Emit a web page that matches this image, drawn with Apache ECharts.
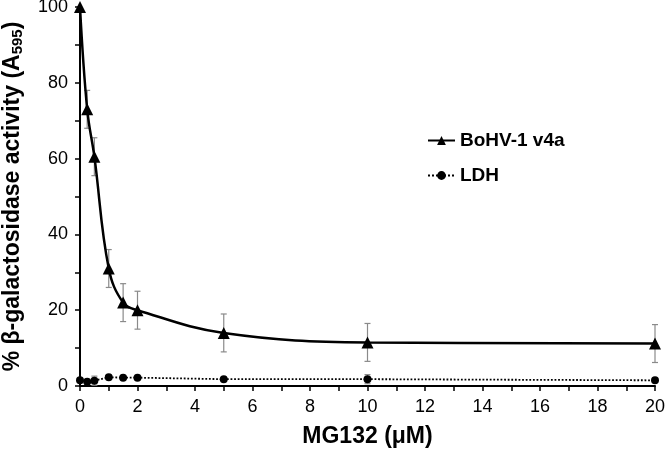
<!DOCTYPE html>
<html>
<head>
<meta charset="utf-8">
<script src="https://cdn.jsdelivr.net/npm/echarts@6/dist/echarts.min.js"></script>
<style>html,body{margin:0;padding:0;background:#fff}#c{width:666px;height:453px}</style>
</head>
<body>
<div id="c"></div>
<script>
const xValues = [0, 0.25, 0.5, 1, 1.5, 2, 5, 10, 20];
const bohv = [100, 73, 60.5, 31, 22, 20, 14, 11.5, 11.2];
const bohvErr = [0, 5, 5, 5, 5, 5, 5, 5, 5];
const ldh = [1.5, 1.1, 1.4, 2.3, 2.2, 2.2, 1.8, 1.8, 1.5];
const ldhErr = [0.3, 0.3, 1.2, 0.3, 0.3, 0.3, 0.3, 1.2, 0.3];
const xTicks = [0, 2, 4, 6, 8, 10, 12, 14, 16, 18, 20];
const yTicks = [0, 20, 40, 60, 80, 100];

const FONT = '"Liberation Sans", Arial, sans-serif';
const pair = (ys) => xValues.map((x, i) => [x, ys[i]]);
const errData = (ys, es) => xValues.map((x, i) => [x, ys[i] - es[i], ys[i] + es[i]]);

function errRender(params, api) {
  const x = api.value(0), lo = api.value(1), hi = api.value(2);
  if (hi - lo <= 0) return null;
  const p1 = api.coord([x, hi]), p2 = api.coord([x, lo]);
  const w = 3;
  const st = { stroke: '#8a8a8a', lineWidth: 1.2 };
  return { type: 'group', children: [
    { type: 'line', shape: { x1: p1[0], y1: p1[1], x2: p2[0], y2: p2[1] }, style: st },
    { type: 'line', shape: { x1: p1[0] - w, y1: p1[1], x2: p1[0] + w, y2: p1[1] }, style: st },
    { type: 'line', shape: { x1: p2[0] - w, y1: p2[1], x2: p2[0] + w, y2: p2[1] }, style: st }
  ]};
}

const chart = echarts.init(document.getElementById('c'));
chart.setOption({
  animation: false,
  backgroundColor: '#fff',
  grid: { left: 80, right: 11, top: 7, bottom: 67, containLabel: false, outerBoundsMode: 'none' },
  legend: {
    orient: 'vertical', left: 422, top: 126, itemGap: 16,
    itemWidth: 27, itemHeight: 11,
    textStyle: { fontFamily: FONT, fontSize: 19, fontWeight: 'bold', color: '#000' },
    data: ['BoHV-1 v4a', 'LDH']
  },
  xAxis: {
    type: 'value', min: 0, max: 20, interval: 1,
    name: 'MG132 (μM)', nameLocation: 'middle', nameGap: 39,
    nameTextStyle: { fontFamily: FONT, fontSize: 23, fontWeight: 'bold', color: '#000' },
    axisLine: { show: true, lineStyle: { color: '#000', width: 2 } },
    axisTick: { show: true, length: 5, lineStyle: { color: '#000', width: 1.5 } },
    axisLabel: { margin: 12, fontFamily: FONT, fontSize: 18, color: '#000',
      formatter: v => xTicks.indexOf(v) >= 0 ? String(v) : '' },
    splitLine: { show: false }
  },
  yAxis: {
    type: 'value', min: 0, max: 100, interval: 10,
    name: '{a|% β-galactosidase activity (A}{s|595}{a|)}',
    nameLocation: 'middle', nameGap: 55,
    nameTextStyle: {
      rich: {
        a: { fontFamily: FONT, fontSize: 23, fontWeight: 'bold', color: '#000' },
        s: { fontFamily: FONT, fontSize: 15, fontWeight: 'bold', color: '#000', verticalAlign: 'bottom', padding: [9, 0, 0, 0] }
      }
    },
    axisLine: { show: true, lineStyle: { color: '#000', width: 2 } },
    axisTick: { show: true, length: 5, lineStyle: { color: '#000', width: 1.5 } },
    axisLabel: { margin: 12, fontFamily: FONT, fontSize: 18, color: '#000',
      formatter: v => yTicks.indexOf(v) >= 0 ? String(v) : '' },
    splitLine: { show: false }
  },
  series: [
    { type: 'custom', name: 'errB', renderItem: errRender, data: errData(bohv, bohvErr), z: 1, silent: true,
      encode: { x: 0, y: [1, 2] } },
    { type: 'custom', name: 'errL', renderItem: errRender, data: errData(ldh, ldhErr), z: 1, silent: true,
      encode: { x: 0, y: [1, 2] } },
    { type: 'line', name: 'BoHV-1 v4a', data: pair(bohv), smooth: 0.4,
      symbol: 'triangle', symbolSize: 12, showAllSymbol: true,
      lineStyle: { color: '#000', width: 2.5 }, itemStyle: { color: '#000' }, z: 3 },
    { type: 'line', name: 'LDH', data: pair(ldh),
      symbol: 'circle', symbolSize: 8, showAllSymbol: true,
      lineStyle: { color: '#000', width: 1.8, type: 'dotted' }, itemStyle: { color: '#000' }, z: 3 }
  ]
});
</script>
</body>
</html>
